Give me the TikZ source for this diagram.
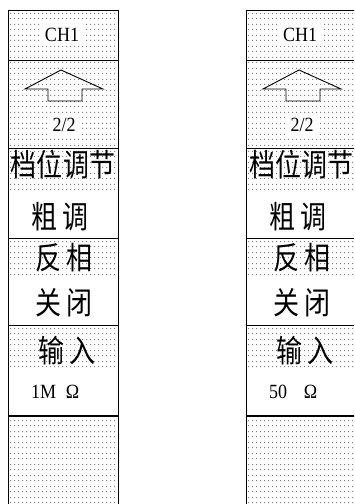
\documentclass[tikz,border=0pt]{standalone}
\usepackage{fontspec}
\usepackage{graphicx}
\setmainfont{Liberation Serif}
\newfontfamily\cjk{Noto Sans CJK SC}
\newcommand{\cjt}[1]{\scalebox{1}[1.2]{\cjk\fontsize{26bp}{26bp}\selectfont #1}}
\newcommand{\latt}[1]{\scalebox{1}[1.12]{\fontsize{18bp}{18bp}\selectfont #1}}
% dotted area: #1 = first row y, #2 = last row y, rows every 5.5
\newcommand{\dotarea}[2]{%
  \fill[dotc] foreach \yy in {#1,\the\numexpr#1\relax.5,...,#2} {%
    foreach \xx in {10,14,...,116} { (\xx,{floor(\yy)}) rectangle ++(1,1) } };}
\tikzset{
  frame/.style={draw=black, line width=0.9bp},
  thickline/.style={draw=black, line width=1.8bp},
  dotc/.style={fill=black!50},
  lbl/.style={inner sep=0pt, outer sep=0pt},
  wbg/.style={fill=white, inner xsep=4bp, inner ysep=4bp},
}
\begin{document}
\begin{tikzpicture}[x=1bp,y=-1bp]
\clip (0,0) rectangle (354,504);
\fill[white] (0,0) rectangle (354,504);
\foreach \sx/\p in {0/l,238/r} {
\begin{scope}[xshift=\sx bp]
  \fill[dotc] foreach \yy in {13,18.5,...,146} { foreach \xx in {10,14,...,116} { (\xx,{floor(\yy)}) rectangle ++(1,1) } };
  \fill[dotc] foreach \yy in {151,156.5,...,194} { foreach \xx in {10,14,...,116} { (\xx,{floor(\yy)}) rectangle ++(1,1) } };
  \fill[dotc] foreach \yy in {241,246.5,...,276} { foreach \xx in {10,14,...,116} { (\xx,{floor(\yy)}) rectangle ++(1,1) } };
  \fill[dotc] foreach \yy in {328,333.5,...,371} { foreach \xx in {10,14,...,116} { (\xx,{floor(\yy)}) rectangle ++(1,1) } };
  \fill[dotc] foreach \yy in {420,425.5,...,503} { foreach \xx in {10,14,...,116} { (\xx,{floor(\yy)}) rectangle ++(1,1) } };
  \draw[frame] (8,504) -- (8,10) -- (118,10) -- (118,504);
  \draw[frame] (8,60) -- (118,60);
  \draw[frame] (8,148) -- (118,148);
  \draw[frame] (8,238) -- (118,238);
  \draw[frame] (8,325) -- (118,325);
  \draw[thickline] (8,416) -- (118,416);
  \draw[frame] (25,89) -- (61,70) -- (103,89) -- (82,89) -- (82,101) -- (48,101) -- (48,89) -- cycle;
  \node[lbl,wbg] (\p ch) at (62,35) {\latt{CH1}};
  \node[lbl,wbg,inner xsep=3bp] (\p pg) at (64,125) {\latt{2/2}};
  \node[lbl] (\p gw) at (63,165) {\cjt{档位调节}};
  \node[lbl] (\p cu) at (60,217) {\cjt{粗\hspace{6bp}调}};
  \node[lbl] (\p fx) at (64,258) {\cjt{反\hspace{6bp}相}};
  \node[lbl] (\p gb) at (64,303) {\cjt{关\hspace{6bp}闭}};
  \node[lbl] (\p sr) at (67,351) {\cjt{输\hspace{6bp}入}};
  \node[lbl] (\p om) at (72.5,392) {\latt{Ω}};
\end{scope}
}
\node[lbl,anchor=west] (lim) at (31,392) {\latt{1M}};
\node[lbl,anchor=west] (rim) at (269,392) {\latt{50}};
\end{tikzpicture}
\end{document}
